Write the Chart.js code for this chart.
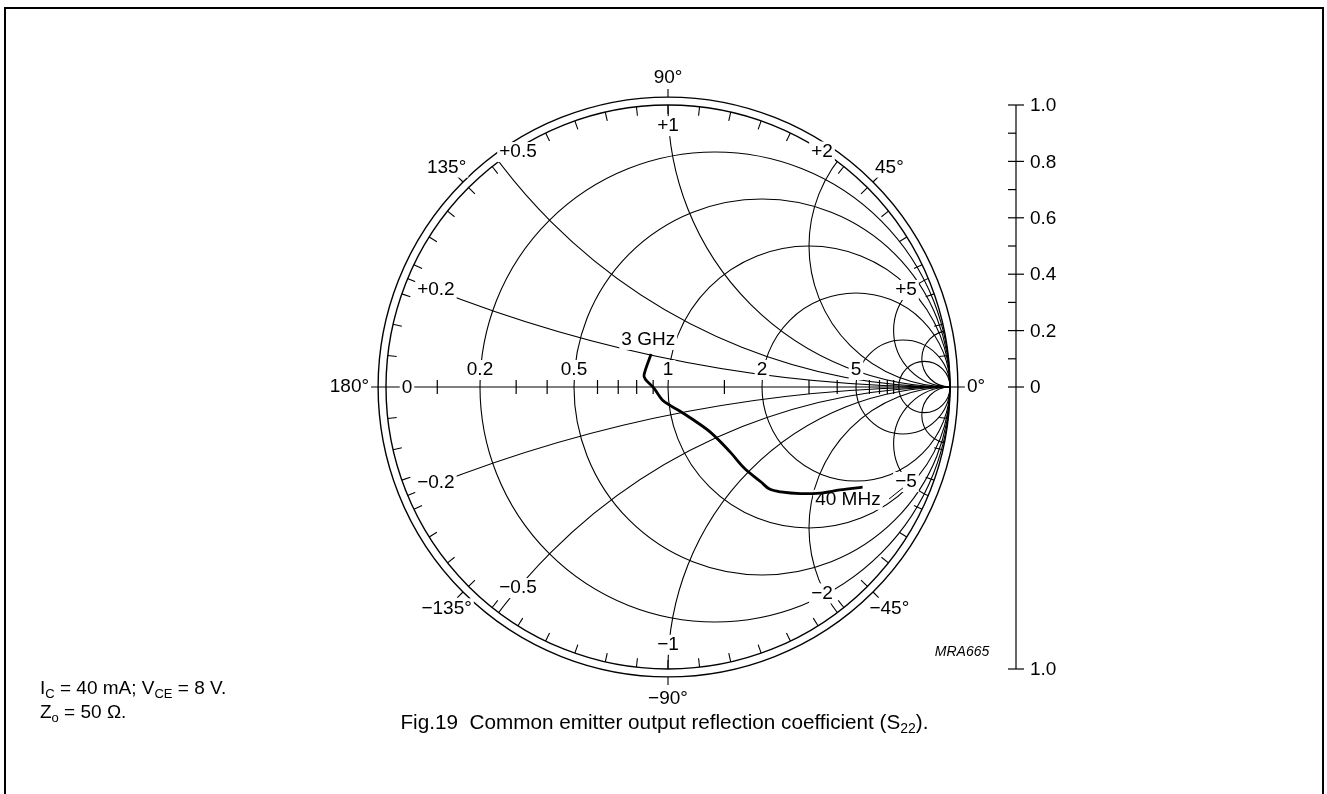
<!DOCTYPE html>
<html>
<head>
<meta charset="utf-8">
<script src="https://cdn.jsdelivr.net/npm/chart.js@4.4.1/dist/chart.umd.min.js"></script>
<style>
    html, body { margin: 0; padding: 0; background: #fff; }
    #wrap { position: relative; width: 1327px; height: 794px; overflow: hidden; font-family: "Liberation Sans", Arial, sans-serif; color: #000; }
    #frame { position: absolute; left: 4px; top: 7px; width: 1320px; height: 800px; border: 2.5px solid #000; box-sizing: border-box; }
    canvas { position: absolute; left: 0; top: 0; }
    .note { position: absolute; left: 40px; font-size: 19px; white-space: nowrap; line-height: 22px; }
    .note sub { font-size: 13px; vertical-align: -4px; line-height: 0; }
    #caption { position: absolute; left: 0; width: 1327px; text-align: center; top: 709px; font-size: 20.7px; line-height: 26px; }
    #caption span { position: relative; left: 1px; }
    #caption sub { font-size: 14px; vertical-align: -4px; line-height: 0; }
</style>
</head>
<body>
<div id="wrap">
    <div id="frame"></div>
    <canvas id="smith" width="1327" height="794"></canvas>
    <div class="note" style="top:677px">I<sub>C</sub> = 40 mA; V<sub>CE</sub> = 8 V.</div>
    <div class="note" style="top:701px">Z<sub>o</sub> = 50 Ω.</div>
    <div id="caption"><span>Fig.19&nbsp;&nbsp;Common emitter output reflection coefficient (S<sub>22</sub>).</span></div>
</div>
<script>
// S22 trace, 40 MHz -> 3 GHz (real / imaginary part of the reflection coefficient)
const s22Re = [0.69, 0.61, 0.54, 0.47, 0.40, 0.36, 0.33, 0.27, 0.22, 0.15, 0.08, 0.04, 0.01, -0.02, -0.05, -0.08, -0.085, -0.06];
const s22Im = [-0.355, -0.365, -0.376, -0.378, -0.372, -0.362, -0.337, -0.287, -0.23, -0.16, -0.11, -0.084, -0.067, -0.046, -0.004, 0.027, 0.043, 0.117];

// chart grid values
const resistanceCircles = [0.2, 0.5, 1, 2, 5, 10];
const resistanceLabels = [0, 0.2, 0.5, 1, 2, 5];
const resistanceTicks = [0.1, 0.3, 0.4, 0.6, 0.7, 0.8, 0.9, 1.5, 3, 4, 6, 7, 8, 9];
const reactanceArcs = [0.2, 0.5, 1, 2, 5, 10];
const reactanceLabels = ["+0.2", "+0.5", "+1", "+2", "+5", "\u22120.2", "\u22120.5", "\u22121", "\u22122", "\u22125"];
const angleLabels = [0, 45, 90, 135, 180, -135, -90, -45];
const magnitudeTicks = [0, 0.2, 0.4, 0.6, 0.8, 1.0];

// layout
const W = 1327, H = 794, CX = 668, CY = 387, UNIT = 282;
const OUTER_RING = 1.028;
const FONT = "'Liberation Sans', Arial, sans-serif";
// label anchors in reflection-coefficient units (same order as reactanceLabels)
const reactanceLabelPos = [
    [-0.823, 0.344], [-0.532, 0.833], [0, 0.925], [0.546, 0.835], [0.844, 0.344],
    [-0.823, -0.34], [-0.532, -0.713], [0, -0.914], [0.546, -0.732], [0.844, -0.337],
];

function fmtDeg(a) {
    return (a < 0 ? "\u2212" + (-a) : String(a)) + "\u00b0";
}

function textBox(ctx, txt, x, y, bg) {
    const w = ctx.measureText(txt).width;
    if (bg) {
        ctx.fillStyle = "#fff";
        ctx.fillRect(x - w / 2 - 2, y - 10, w + 4, 20);
    }
    ctx.fillStyle = "#000";
    ctx.fillText(txt, x, y);
}

const smithGrid = {
    id: "smithGrid",
    beforeDatasetsDraw(chart) {
        const { ctx, scales: { x, y } } = chart;
        const px = (v) => x.getPixelForValue(v);
        const py = (v) => y.getPixelForValue(v);
        const u = px(1) - px(0);
        const ox = px(0), oy = py(0);

        ctx.save();
        ctx.strokeStyle = "#000";
        ctx.lineWidth = 1.1;

        // reactance arcs, clipped to the unit circle
        ctx.save();
        ctx.beginPath();
        ctx.arc(ox, oy, u, 0, Math.PI * 2);
        ctx.clip();
        for (const xv of reactanceArcs) {
            for (const s of [1, -1]) {
                ctx.beginPath();
                ctx.arc(px(1), py(s / xv), u / xv, 0, Math.PI * 2);
                ctx.stroke();
            }
        }
        ctx.restore();

        // resistance circles
        for (const r of resistanceCircles) {
            ctx.beginPath();
            ctx.arc(px(r / (1 + r)), oy, u / (1 + r), 0, Math.PI * 2);
            ctx.stroke();
        }

        // unit circle and outer ring
        ctx.lineWidth = 1.4;
        ctx.beginPath();
        ctx.arc(ox, oy, u, 0, Math.PI * 2);
        ctx.stroke();
        ctx.beginPath();
        ctx.arc(ox, oy, u * OUTER_RING, 0, Math.PI * 2);
        ctx.stroke();

        // real axis
        ctx.lineWidth = 1.2;
        ctx.beginPath();
        ctx.moveTo(px(-1.071), oy);
        ctx.lineTo(px(1.064), oy);
        ctx.stroke();
        for (const r of resistanceTicks) {
            const tx = px((r - 1) / (r + 1));
            ctx.beginPath();
            ctx.moveTo(tx, oy - 7);
            ctx.lineTo(tx, oy + 7);
            ctx.stroke();
        }

        // angle ticks
        ctx.lineWidth = 1.1;
        for (let k = 0; k < 56; k++) {
            const a = (k * 45 / 7) * Math.PI / 180;
            const c = Math.cos(a), s = Math.sin(a);
            if (k % 28 === 0) continue;
            ctx.beginPath();
            ctx.moveTo(ox + c * u, oy - s * u);
            ctx.lineTo(ox + c * (u - 9), oy - s * (u - 9));
            ctx.stroke();
            if (k % 7 === 0) {
                const ro = u * OUTER_RING;
                ctx.beginPath();
                ctx.moveTo(ox + c * ro, oy - s * ro);
                ctx.lineTo(ox + c * (ro + 8), oy - s * (ro + 8));
                ctx.stroke();
            }
        }

        // text
        ctx.textAlign = "center";
        ctx.textBaseline = "middle";
        ctx.font = "19px " + FONT;

        for (const a of angleLabels) {
            const t = fmtDeg(a);
            const w = ctx.measureText(t).width;
            const rad = a * Math.PI / 180;
            const c = Math.cos(rad), s = Math.sin(rad);
            const diag = a % 90 !== 0;
            const half = diag ? 20 : w / 2;
            const d = u * 1.06 + Math.max(Math.abs(c) * half, Math.abs(s) * 10) + (a === -90 ? 3 : 0);
            textBox(ctx, t, ox + c * d, oy - s * d + (diag && s > 0 ? 2 : 0), true);
        }

        for (const r of resistanceLabels) {
            const gx = (r - 1) / (r + 1);
            if (r === 0) textBox(ctx, "0", px(gx) + 21, oy + 1, true);
            else textBox(ctx, String(r), px(gx), oy - 17, true);
        }

        reactanceLabels.forEach((t, i) => {
            const [gx, gy] = reactanceLabelPos[i];
            textBox(ctx, t, px(gx), py(gy), true);
        });

        textBox(ctx, "3 GHz", px(-0.07), py(0.167), true);
        textBox(ctx, "40 MHz", px(0.638), py(-0.4), true);
        ctx.lineWidth = 1;
        ctx.beginPath();
        ctx.moveTo(px(0.784), py(-0.397));
        ctx.lineTo(px(0.833), py(-0.358));
        ctx.stroke();

        // magnitude scale on the right
        const sx = 1016;
        ctx.lineWidth = 1.2;
        ctx.beginPath();
        ctx.moveTo(sx, py(1));
        ctx.lineTo(sx, py(-1));
        ctx.stroke();
        for (let i = 1; i < 10; i += 2) {
            ctx.beginPath();
            ctx.moveTo(sx - 8, py(i / 10));
            ctx.lineTo(sx, py(i / 10));
            ctx.stroke();
        }
        ctx.textAlign = "left";
        for (const m of magnitudeTicks) {
            ctx.beginPath();
            ctx.moveTo(sx - 8, py(m));
            ctx.lineTo(sx + 8, py(m));
            ctx.stroke();
            ctx.fillText(m.toFixed(m === 0 ? 0 : 1), sx + 14, py(m) + 1);
        }
        ctx.beginPath();
        ctx.moveTo(sx - 8, py(-1));
        ctx.lineTo(sx + 8, py(-1));
        ctx.stroke();
        ctx.fillText("1.0", sx + 14, py(-1) + 1);

        ctx.font = "italic 14px " + FONT;
        ctx.textAlign = "center";
        ctx.fillText("MRA665", 962, 652);

        ctx.restore();
    },
};

new Chart(document.getElementById("smith"), {
    type: "scatter",
    data: {
        datasets: [
            {
                data: s22Re.map((v, i) => ({ x: v, y: s22Im[i] })),
                showLine: true,
                borderColor: "#000",
                borderWidth: 2.8,
                pointRadius: 0,
                tension: 0.35,
                fill: false,
            },
        ],
    },
    options: {
        responsive: false,
        animation: false,
        devicePixelRatio: 1,
        layout: { padding: 0 },
        plugins: { legend: { display: false }, tooltip: { enabled: false } },
        scales: {
            x: { type: "linear", display: false, min: -CX / UNIT, max: (W - CX) / UNIT },
            y: { type: "linear", display: false, min: -(H - CY) / UNIT, max: CY / UNIT },
        },
    },
    plugins: [smithGrid],
});
</script>
</body>
</html>
